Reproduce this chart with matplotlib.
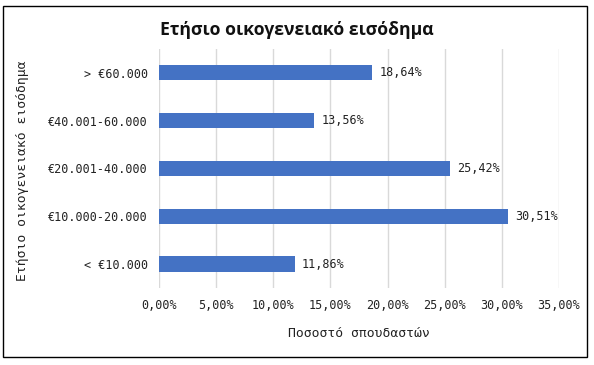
import matplotlib.pyplot as plt
from matplotlib.patches import Rectangle

categories = ['< €10.000', '€10.000-20.000', '€20.001-40.000', '€40.001-60.000', '> €60.000']
values = [11.86, 30.51, 25.42, 13.56, 18.64]
xticks = [0, 5, 10, 15, 20, 25, 30, 35]

mono = 'DejaVu Sans Mono'
bar_color = '#4472C4'

fig = plt.figure(figsize=(5.94, 3.65), dpi=100)
ax = fig.add_axes([0.2677, 0.211, 0.6734, 0.655])

pos = range(len(categories))
ax.barh(pos, values, height=0.32, color=bar_color, zorder=3)
for y, v in zip(pos, values):
    ax.text(v + 0.65, y, f'{v:.2f}'.replace('.', ',') + '%', va='center', ha='left',
            fontsize=8.5, family=mono, color='#222222')

ax.set_xlim(0, 35)
ax.set_ylim(-0.5, 4.5)
ax.set_yticks(list(pos))
ax.set_yticklabels(categories, fontsize=8.5, family=mono, color='#222222')
ax.set_xticks(xticks)
ax.set_xticklabels([f'{t:.2f}'.replace('.', ',') + '%' for t in xticks],
                   fontsize=8.5, family=mono, color='#222222')
ax.tick_params(length=0, pad=8)
ax.grid(axis='x', color='#d9d9d9', linewidth=1, zorder=0)
for s in ax.spines.values():
    s.set_visible(False)

ax.set_xlabel('Ποσοστό σπουδαστών', fontsize=9.4, family=mono, color='#222222')
ax.xaxis.set_label_coords(0.5, -0.165)
ax.set_ylabel('Ετήσιο οικογενειακό εισόδημα', fontsize=9.4, family=mono, color='#222222')
ax.yaxis.set_label_coords(-0.325, 0.49)

fig.text(0.5, 0.918, 'Ετήσιο οικογενειακό εισόδημα', ha='center', va='center',
         fontsize=12.7, fontweight='bold', family='Open Sans', color='#111111')

fig.patches.append(Rectangle((3 / 594, 1 - 357 / 365), 584 / 594, 351 / 365,
                             transform=fig.transFigure, fill=False,
                             edgecolor='black', linewidth=1))

fig.savefig('out.png', dpi=100)
